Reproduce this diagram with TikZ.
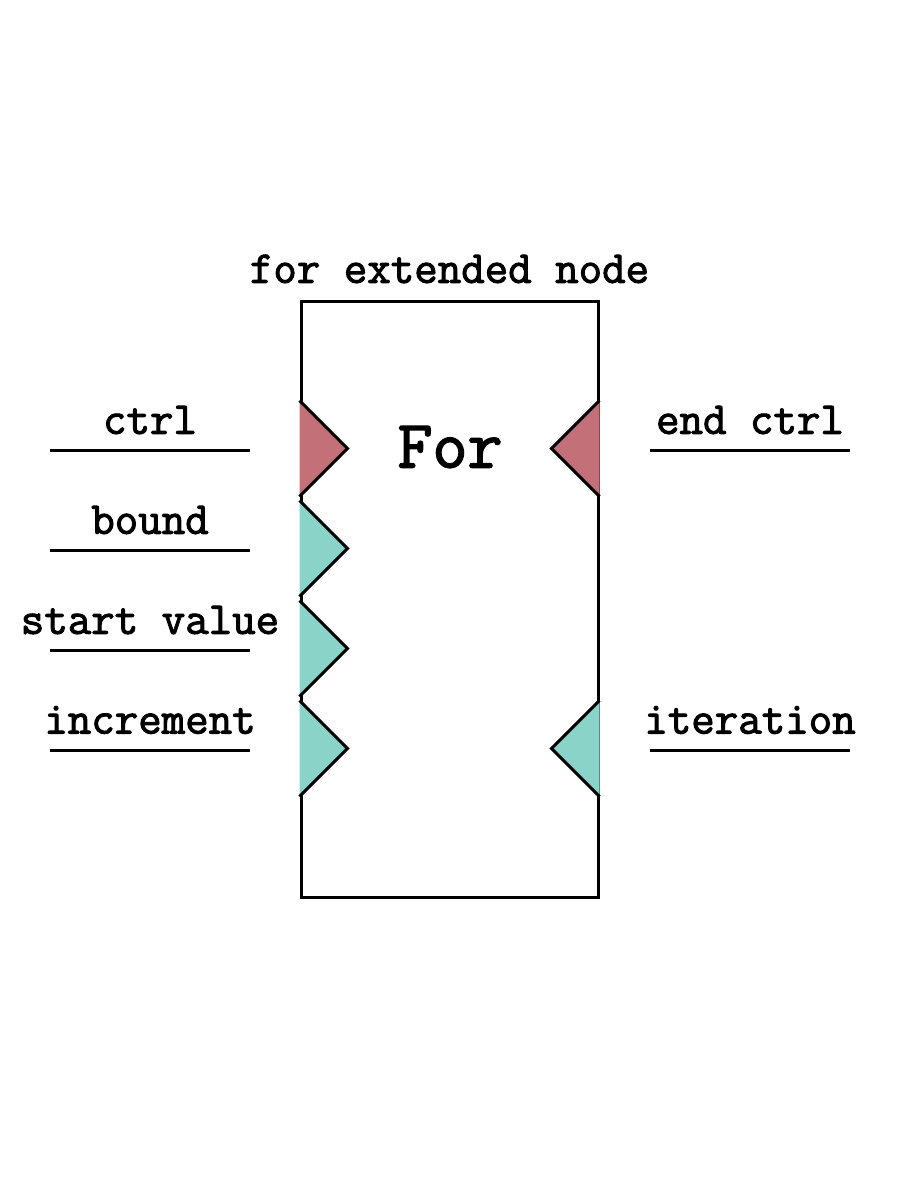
\documentclass[tikz,border=0pt]{standalone}
\usepackage{fontspec}
\setmonofont{Latin Modern Mono}[AutoFakeBold=2.2]
\usepackage{tikz}
\usetikzlibrary{positioning,calc}
\definecolor{fxctrl}{HTML}{C47078}
\definecolor{fxdata}{HTML}{8AD3C8}
\definecolor{fxink}{HTML}{000000}

\begin{document}
\begin{tikzpicture}[x=0.5pt,y=-0.5pt,
    portline/.style={draw=fxink,line width=1.5pt},
    portlabel/.style={font=\fontsize{22.8}{26}\selectfont\ttfamily\bfseries,inner sep=0pt},
    porttri/.style={draw=fxink,line width=1.5pt,line join=miter}]
  \useasboundingbox (0,0) rectangle (900,1200);
  % main block
  \node[draw=fxink,line width=1.5pt,minimum width=148.5pt,minimum height=298pt,inner sep=0pt] (body) at (449.5,599) {};
  \node[portlabel,above=8pt of body.north] (title) {for extended node};
  \node[font=\fontsize{34}{39}\selectfont\ttfamily\bfseries,inner sep=0pt] (name) at (450,447) {For};
  % input ports
  \draw[porttri,fill=fxctrl] (body.north west) ++(0,101) coordinate (inA) -- ++(48,48) -- ++(-48,48);
  \draw[porttri,fill=fxdata] (body.north west) ++(0,201) coordinate (inB) -- ++(48,48) -- ++(-48,48);
  \draw[porttri,fill=fxdata] (body.north west) ++(0,301) coordinate (inC) -- ++(48,48) -- ++(-48,48);
  \draw[porttri,fill=fxdata] (body.north west) ++(0,401) coordinate (inD) -- ++(48,48) -- ++(-48,48);
  % output ports
  \draw[porttri,fill=fxctrl] (body.north east) ++(0,101) coordinate (outA) -- ++(-48,48) -- ++(48,48);
  \draw[porttri,fill=fxdata] (body.north east) ++(0,401) coordinate (outB) -- ++(-48,48) -- ++(48,48);
  % port stubs
  \coordinate (ctrlL) at (50,450);      \coordinate (ctrlR) at (250,450);
  \coordinate (boundL) at (50,550);     \coordinate (boundR) at (250,550);
  \coordinate (startL) at (50,650);     \coordinate (startR) at (250,650);
  \coordinate (incrL) at (50,750);      \coordinate (incrR) at (250,750);
  \coordinate (endL) at (650,450);      \coordinate (endR) at (850,450);
  \coordinate (iterL) at (650,750);     \coordinate (iterR) at (850,750);
  \draw[portline] (ctrlL) -- (ctrlR);
  \draw[portline] (boundL) -- (boundR);
  \draw[portline] (startL) -- (startR);
  \draw[portline] (incrL) -- (incrR);
  \draw[portline] (endL) -- (endR);
  \draw[portline] (iterL) -- (iterR);
  \node[portlabel] (ctrl) at (150,420) {ctrl};
  \node[portlabel] (bound) at (150,520) {bound};
  \node[portlabel] (start) at (150,620) {start value};
  \node[portlabel] (incr) at (150,720) {increment};
  \node[portlabel] (endctrl) at (750,420) {end ctrl};
  \node[portlabel] (iter) at (750,720) {iteration};
\end{tikzpicture}
\end{document}
